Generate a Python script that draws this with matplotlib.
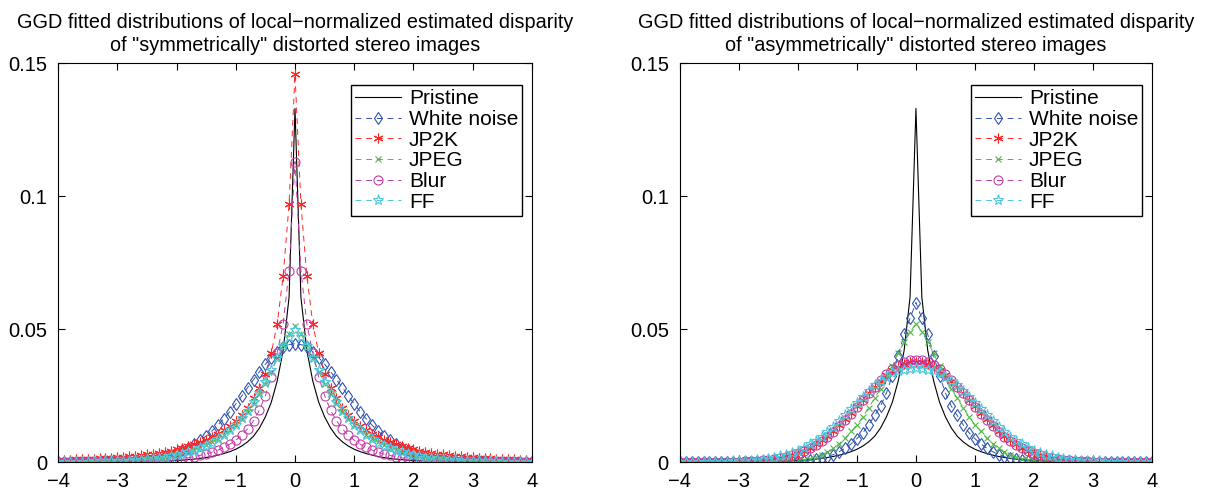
import numpy as np
import matplotlib
matplotlib.use("Agg")
import matplotlib.pyplot as plt

plt.rcParams['font.family'] = ['Liberation Sans', 'DejaVu Sans']

# x grid (-4 .. 4, step 0.1)
x = np.round(np.arange(-40, 41) / 10.0, 1)

xticks = [-4, -3, -2, -1, 0, 1, 2, 3, 4]
yticks = [0, 0.05, 0.1, 0.15]
ytick_labels = ["0", "0.05", "0.1", "0.15"]

titles = ['GGD fitted distributions of local\u2212normalized estimated disparity\nof "symmetrically" distorted stereo images',
          'GGD fitted distributions of local\u2212normalized estimated disparity\nof "asymmetrically" distorted stereo images']

labels = ["Pristine", "White noise", "JP2K", "JPEG", "Blur", "FF"]

# pristine curve (same in both panels)
pristine = [
    0, 0, 0, 0, 0, 0, 0, 0, 0, 0,
    .0001, .0001, .0001, .0001, .0002, .0002, .0003, .0003, .0004, .0005,
    .0006, .0007, .0009, .0011, .0014, .0017, .0021, .0026, .0032, .0039,
    .0048, .0060, .0076, .0097, .0128, .0170, .0225, .0305, .0420, .0620,
    .1330,
    .0620, .0420, .0305, .0225, .0170, .0128, .0097, .0076, .0060, .0048,
    .0039, .0032, .0026, .0021, .0017, .0014, .0011, .0009, .0007, .0006,
    .0005, .0004, .0003, .0003, .0002, .0002, .0001, .0001, .0001, .0001,
    0, 0, 0, 0, 0, 0, 0, 0, 0, 0]

# ---- symmetrically distorted (left) ----
sym_noise = [
    0, 0, 0, 0, 0, .0001, .0001, .0001, .0002, .0002,
    .0003, .0004, .0005, .0006, .0008, .0010, .0013, .0017, .0022, .0028,
    .0035, .0044, .0054, .0066, .0081, .0098, .0117, .0139, .0163, .0190,
    .0218, .0248, .0280, .0310, .0340, .0368, .0393, .0415, .0432, .0442,
    .0445,
    .0442, .0432, .0415, .0393, .0368, .0340, .0310, .0280, .0248, .0218,
    .0190, .0163, .0139, .0117, .0098, .0081, .0066, .0054, .0044, .0035,
    .0028, .0022, .0017, .0013, .0010, .0008, .0006, .0005, .0004, .0003,
    .0002, .0002, .0001, .0001, .0001, 0, 0, 0, 0, 0]

sym_jp2k = [
    .0008, .0009, .0009, .0010, .0011, .0012, .0013, .0014, .0015, .0017,
    .0018, .0020, .0022, .0024, .0026, .0029, .0032, .0035, .0039, .0043,
    .0048, .0053, .0059, .0066, .0074, .0083, .0094, .0106, .0120, .0136,
    .0155, .0178, .0205, .0240, .0280, .0330, .0410, .0520, .0700, .0970,
    .1460,
    .0970, .0700, .0520, .0410, .0330, .0280, .0240, .0205, .0178, .0155,
    .0136, .0120, .0106, .0094, .0083, .0074, .0066, .0059, .0053, .0048,
    .0043, .0039, .0035, .0032, .0029, .0026, .0024, .0022, .0020, .0018,
    .0017, .0015, .0014, .0013, .0012, .0011, .0010, .0009, .0009, .0008]

sym_jpeg = [
    .0001, .0001, .0001, .0001, .0001, .0002, .0002, .0002, .0003, .0004,
    .0004, .0005, .0006, .0008, .0009, .0011, .0013, .0016, .0019, .0023,
    .0027, .0032, .0038, .0045, .0053, .0063, .0074, .0087, .0102, .0120,
    .0140, .0163, .0190, .0220, .0255, .0295, .0340, .0390, .0440, .0480,
    .0510,
    .0480, .0440, .0390, .0340, .0295, .0255, .0220, .0190, .0163, .0140,
    .0120, .0102, .0087, .0074, .0063, .0053, .0045, .0038, .0032, .0027,
    .0023, .0019, .0016, .0013, .0011, .0009, .0008, .0006, .0005, .0004,
    .0004, .0003, .0002, .0002, .0002, .0001, .0001, .0001, .0001, .0001]

sym_blur = [
    0, 0, 0, 0, 0, 0, 0, .0001, .0001, .0001,
    .0001, .0002, .0002, .0003, .0003, .0004, .0005, .0006, .0007, .0009,
    .0011, .0013, .0016, .0020, .0025, .0030, .0037, .0045, .0055, .0067,
    .0082, .0100, .0125, .0155, .0195, .0250, .0320, .0410, .0520, .0720,
    .1130,
    .0720, .0520, .0410, .0320, .0250, .0195, .0155, .0125, .0100, .0082,
    .0067, .0055, .0045, .0037, .0030, .0025, .0020, .0016, .0013, .0011,
    .0009, .0007, .0006, .0005, .0004, .0003, .0003, .0002, .0002, .0001,
    .0001, .0001, .0001, 0, 0, 0, 0, 0, 0, 0]

sym_ff = [
    .0001, .0001, .0001, .0001, .0001, .0001, .0002, .0002, .0002, .0003,
    .0004, .0004, .0005, .0007, .0008, .0010, .0012, .0014, .0017, .0021,
    .0025, .0030, .0036, .0043, .0051, .0061, .0073, .0086, .0102, .0120,
    .0141, .0165, .0193, .0225, .0260, .0300, .0345, .0390, .0435, .0470,
    .0495,
    .0470, .0435, .0390, .0345, .0300, .0260, .0225, .0193, .0165, .0141,
    .0120, .0102, .0086, .0073, .0061, .0051, .0043, .0036, .0030, .0025,
    .0021, .0017, .0014, .0012, .0010, .0008, .0007, .0005, .0004, .0004,
    .0003, .0002, .0002, .0002, .0001, .0001, .0001, .0001, .0001, .0001]

# ---- asymmetrically distorted (right) ----
asym_noise = [
    0, 0, 0, 0, 0, 0, 0, 0, 0, 0,
    0, 0, 0, 0, 0, 0, 0, .0001, .0001, .0002,
    .0003, .0005, .0007, .0010, .0014, .0020, .0028, .0039, .0052, .0068,
    .0088, .0110, .0140, .0175, .0210, .0260, .0325, .0400, .0480, .0540,
    .0600,
    .0540, .0480, .0400, .0325, .0260, .0210, .0175, .0140, .0110, .0088,
    .0068, .0052, .0039, .0028, .0020, .0014, .0010, .0007, .0005, .0003,
    .0002, .0001, .0001, 0, 0, 0, 0, 0, 0, 0,
    0, 0, 0, 0, 0, 0, 0, 0, 0, 0]

asym_jp2k = [
    0, 0, 0, 0, 0, 0, 0, 0, .0001, .0001,
    .0002, .0003, .0004, .0005, .0007, .0009, .0012, .0016, .0021, .0027,
    .0034, .0043, .0054, .0067, .0082, .0099, .0117, .0138, .0160, .0184,
    .0209, .0234, .0259, .0283, .0306, .0327, .0345, .0359, .0370, .0376,
    .0378,
    .0376, .0370, .0359, .0345, .0327, .0306, .0283, .0259, .0234, .0209,
    .0184, .0160, .0138, .0117, .0099, .0082, .0067, .0054, .0043, .0034,
    .0027, .0021, .0016, .0012, .0009, .0007, .0005, .0004, .0003, .0002,
    .0001, .0001, 0, 0, 0, 0, 0, 0, 0, 0]

asym_jpeg = [
    0, 0, 0, 0, 0, 0, 0, 0, 0, 0,
    0, 0, 0, 0, 0, .0001, .0001, .0002, .0003, .0004,
    .0006, .0009, .0013, .0019, .0027, .0037, .0051, .0069, .0090, .0115,
    .0140, .0170, .0205, .0240, .0275, .0315, .0360, .0410, .0450, .0490,
    .0520,
    .0490, .0450, .0410, .0360, .0315, .0275, .0240, .0205, .0170, .0140,
    .0115, .0090, .0069, .0051, .0037, .0027, .0019, .0013, .0009, .0006,
    .0004, .0003, .0002, .0001, .0001, 0, 0, 0, 0, 0,
    0, 0, 0, 0, 0, 0, 0, 0, 0, 0]

asym_blur = [
    0, 0, 0, 0, 0, 0, 0, 0, 0, .0001,
    .0001, .0002, .0003, .0004, .0006, .0008, .0011, .0015, .0019, .0025,
    .0032, .0041, .0052, .0064, .0079, .0096, .0114, .0135, .0158, .0182,
    .0207, .0233, .0259, .0284, .0308, .0330, .0349, .0364, .0376, .0383,
    .0385,
    .0383, .0376, .0364, .0349, .0330, .0308, .0284, .0259, .0233, .0207,
    .0182, .0158, .0135, .0114, .0096, .0079, .0064, .0052, .0041, .0032,
    .0025, .0019, .0015, .0011, .0008, .0006, .0004, .0003, .0002, .0001,
    .0001, 0, 0, 0, 0, 0, 0, 0, 0, 0]

asym_ff = [
    0, 0, 0, 0, 0, 0, 0, .0001, .0001, .0002,
    .0003, .0004, .0005, .0007, .0009, .0012, .0016, .0021, .0027, .0034,
    .0043, .0054, .0066, .0080, .0096, .0114, .0133, .0154, .0176, .0199,
    .0222, .0245, .0267, .0288, .0306, .0321, .0333, .0342, .0348, .0351,
    .0352,
    .0351, .0348, .0342, .0333, .0321, .0306, .0288, .0267, .0245, .0222,
    .0199, .0176, .0154, .0133, .0114, .0096, .0080, .0066, .0054, .0043,
    .0034, .0027, .0021, .0016, .0012, .0009, .0007, .0005, .0004, .0003,
    .0002, .0001, .0001, 0, 0, 0, 0, 0, 0, 0]

# styles: (color, marker, marker size)
styles = [
    ("black", None, 0),
    ("#2f52b0", "d", 6.5),
    ("#ff2626", (6, 2, 0), 7),
    ("#4cb848", "x", 5),
    ("#c23ea6", "o", 6.5),
    ("#4cc6dc", "*", 8),
]

panels = [
    [pristine, sym_noise, sym_jp2k, sym_jpeg, sym_blur, sym_ff],
    [pristine, asym_noise, asym_jp2k, asym_jpeg, asym_blur, asym_ff],
]

fig = plt.figure(figsize=(12.09, 4.96), dpi=100)
axes = [fig.add_axes([0.048, 0.0685, 0.392, 0.804]),
        fig.add_axes([0.5624, 0.0685, 0.3904, 0.804])]

for ax, series, title in zip(axes, panels, titles):
    for y, lab, (c, m, ms) in zip(series, labels, styles):
        if m is None:
            ax.plot(x, y, color=c, ls="-", lw=0.8, label=lab)
        else:
            ax.plot(x, y, color=c, ls="--", lw=0.7, marker=m, ms=ms,
                    mfc="none", mec=c, mew=0.8, label=lab, dashes=(6, 5))
    ax.set_xlim(-4, 4)
    ax.set_ylim(0, 0.15)
    ax.set_xticks(xticks)
    ax.set_yticks(yticks, labels=ytick_labels)
    ax.tick_params(direction="in", top=True, right=True, length=5,
                   width=0.8, labelsize=14.5)
    ax.tick_params(axis="y", pad=8)
    ax.tick_params(axis="x", pad=7)
    for s in ax.spines.values():
        s.set_linewidth(0.8)
    ax.set_title(title, fontsize=14.3, pad=9, linespacing=1.25)
    leg = ax.legend(loc="upper right", bbox_to_anchor=(0.98, 0.945),
                    fontsize=15, frameon=True, fancybox=False,
                    edgecolor="black", framealpha=1, borderpad=0.2,
                    labelspacing=0.08, handlelength=2.2, handletextpad=0.4,
                    borderaxespad=0)
    leg.get_frame().set_linewidth(1.0)

fig.savefig("out.png", dpi=100)
